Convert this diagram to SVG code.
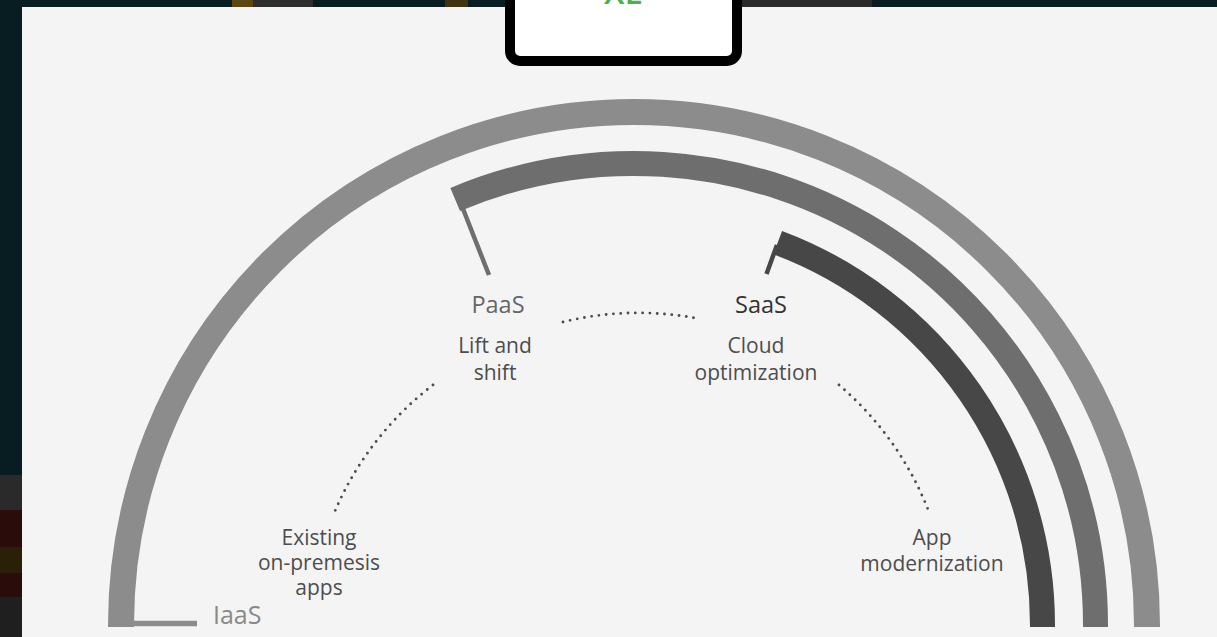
<svg xmlns="http://www.w3.org/2000/svg" width="1217" height="637" viewBox="0 0 1217 637">
  <style>
    .band { fill: none; stroke-linecap: butt; }
    .lbl { font-family: "Open Sans", "Noto Sans", "Liberation Sans", sans-serif; font-size: 21px; fill: #4d4d4d; text-anchor: middle; }
    .tier { font-family: "Open Sans", "Noto Sans", "Liberation Sans", sans-serif; font-size: 23.5px; text-anchor: middle; }
    .dots { fill: none; stroke: #4d4d4d; stroke-width: 2.9; stroke-linecap: round; stroke-dasharray: 0 7.3; }
  </style>
  <!-- background -->
  <rect x="0" y="0" width="1217" height="637" fill="#071d21"/>
  <g id="bg-clutter">
    <rect x="232" y="0" width="21" height="7" fill="#5e4614"/>
    <rect x="253" y="0" width="60" height="7" fill="#2e2e2e"/>
    <rect x="445" y="0" width="23" height="7" fill="#3f3410"/>
    <rect x="742" y="0" width="130" height="7" fill="#2b2b2b"/>
    <rect x="0" y="475" width="22" height="35" fill="#2a2a2a"/>
    <rect x="0" y="510" width="22" height="37" fill="#2a0d0a"/>
    <rect x="0" y="547" width="22" height="26" fill="#2a2008"/>
    <rect x="0" y="573" width="22" height="24" fill="#2a0d0a"/>
    <rect x="0" y="597" width="22" height="40" fill="#1f1f1f"/>
  </g>
  <rect id="panel" x="22" y="7" width="1195" height="630" fill="#f4f4f4"/>

  <g id="title-box">
    <rect x="510" y="-20" width="227" height="81" rx="10" ry="10" fill="#ffffff" stroke="#000000" stroke-width="10"/>
    <text x="623.5" y="4" font-family="Open Sans, Noto Sans, Liberation Sans, sans-serif" font-size="33" font-weight="600" fill="#4caf50" text-anchor="middle">XE</text>
  </g>

  <g id="iaas-arc">
    <path class="band" d="M 121 627 L 121 625 A 513 513 0 0 1 1147 625 L 1147 627" stroke="#8c8c8c" stroke-width="26"/>
    <line x1="134" y1="623.5" x2="197" y2="623.5" stroke="#8c8c8c" stroke-width="5.5"/>
  </g>
  <g id="paas-arc">
    <path class="band" d="M 455.2 199.5 A 461.5 461.5 0 0 1 1095.5 625 L 1095.5 627" stroke="#6e6e6e" stroke-width="25"/>
    <line x1="461.5" y1="205" x2="489" y2="275" stroke="#6e6e6e" stroke-width="4.5"/>
  </g>
  <g id="saas-arc">
    <path class="band" d="M 777.7 242.6 A 408.5 408.5 0 0 1 1042.5 625 L 1042.5 627" stroke="#474747" stroke-width="25"/>
    <line x1="777" y1="245" x2="766.5" y2="274" stroke="#474747" stroke-width="4.5"/>
  </g>

  <g id="connectors">
    <path class="dots" d="M 563 322 A 316 316 0 0 1 695 318"/>
    <path class="dots" d="M 433 385 A 316 316 0 0 0 335 511"/>
    <path class="dots" d="M 839 385 A 316 316 0 0 1 929 512"/>
  </g>

  <g id="node-iaas">
    <text x="213" y="624" font-family="Open Sans, Noto Sans, Liberation Sans, sans-serif" font-size="25" fill="#8a8a8a">IaaS</text>
  </g>
  <g id="node-paas">
    <text class="tier" x="498" y="313" fill="#666666">PaaS</text>
    <text class="lbl" x="495" y="353">Lift and</text>
    <text class="lbl" x="495" y="380">shift</text>
  </g>
  <g id="node-saas">
    <text class="tier" x="761" y="313" fill="#333333">SaaS</text>
    <text class="lbl" x="756" y="353">Cloud</text>
    <text class="lbl" x="756" y="380">optimization</text>
  </g>
  <g id="node-existing">
    <text class="lbl" x="319" y="545">Existing</text>
    <text class="lbl" x="319" y="570">on-premesis</text>
    <text class="lbl" x="319" y="595">apps</text>
  </g>
  <g id="node-modern">
    <text class="lbl" x="932" y="545">App</text>
    <text class="lbl" x="932" y="571">modernization</text>
  </g>
</svg>
